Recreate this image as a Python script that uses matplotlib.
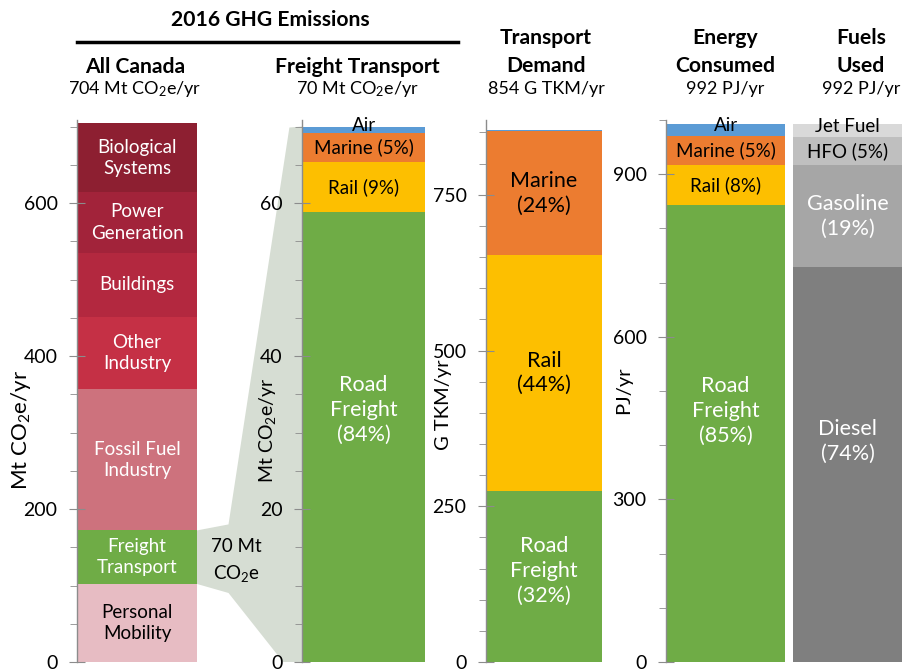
import matplotlib
matplotlib.use("Agg")
import matplotlib.pyplot as plt
import matplotlib.patches as mpatches
from matplotlib.lines import Line2D
from matplotlib.ticker import MultipleLocator, NullFormatter

plt.rcParams["font.family"] = ["Lato", "DejaVu Sans"]
plt.rcParams["mathtext.fontset"] = "custom"
plt.rcParams["mathtext.rm"] = "Lato"
plt.rcParams["mathtext.it"] = "Lato:italic"
plt.rcParams["mathtext.bf"] = "Lato:bold"

# ── Data (bottom → top) ───────────────────────────────────────────────────────
canada_labels = ["Personal\nMobility", "Freight\nTransport", "Fossil Fuel\nIndustry",
                 "Other\nIndustry", "Buildings", "Power\nGeneration", "Biological\nSystems"]
canada_values = [102, 70, 185, 94, 84, 79, 90]            # Mt CO2e/yr

freight_labels = ["Road\nFreight\n(84%)", "Rail (9%)", "Marine (5%)", "Air"]
freight_values = [58.8, 6.6, 3.8, 0.8]                    # Mt CO2e/yr

demand_labels = ["Road\nFreight\n(32%)", "Rail\n(44%)", "Marine\n(24%)", ""]
demand_values = [275, 378, 199, 2]                        # G TKM/yr

energy_labels = ["Road\nFreight\n(85%)", "Rail (8%)", "Marine (5%)", "Air"]
energy_values = [843, 74, 54, 21]                         # PJ/yr

fuel_labels = ["Diesel\n(74%)", "Gasoline\n(19%)", "HFO (5%)", "Jet Fuel"]
fuel_values = [728, 189, 52, 23]                          # PJ/yr

# ── Styles ────────────────────────────────────────────────────────────────────
canada_colors = ["#e7bcc3", "#6fac46", "#cd727d", "#c53045", "#b3283f", "#a2233a", "#8d1f31"]
canada_text = ["black", "white", "white", "white", "white", "white", "white"]
mode_colors = ["#6fac46", "#fdbf00", "#ec7c30", "#5b9bd5"]
mode_text = ["white", "black", "black", "black"]
fuel_colors = ["#7f7f7f", "#a6a6a6", "#bfbfbf", "#d9d9d9"]
fuel_text = ["white", "white", "black", "black"]
AXIS_GREY = "#8c8c8c"

W, H = 902, 671
fig = plt.figure(figsize=(W / 100, H / 100), dpi=100)


def px_axes(x0, x1, top=120, bottom=662):
    return fig.add_axes([x0 / W, 1 - bottom / H, (x1 - x0) / W, (bottom - top) / H])


def ftext(x, y, s, **kw):
    kw.setdefault("ha", "center")
    kw.setdefault("va", "center")
    return fig.text(x / W, 1 - y / H, s, **kw)


def stack(ax, values, labels, colors, text_colors, ymax,
          big=15.5, small=13.5, first_frac=0.5):
    ax.set_xlim(-0.5, 0.5)
    ax.set_ylim(0, ymax)
    total = sum(values)
    bottom = 0
    for i, (v, lab, c, tc) in enumerate(zip(values, labels, colors, text_colors)):
        ax.bar(0, v, width=1.0, bottom=bottom, color=c, linewidth=0, zorder=1)
        share = v / total
        frac = first_frac if i == 0 else 0.5
        size = big if share > 0.15 else small
        dy = 3 if share < 0.03 else 0
        if lab:
            ax.annotate(lab, xy=(0, bottom + v * frac), xytext=(0, dy),
                        textcoords="offset points", ha="center", va="center",
                        color=tc, fontsize=size, linespacing=1.3, zorder=5)
        bottom += v


def style_axis(ax, major, minor, show=True):
    for s in ["top", "right", "bottom"]:
        ax.spines[s].set_visible(False)
    ax.set_xticks([])
    if not show:
        ax.spines["left"].set_visible(False)
        ax.set_yticks([])
        return
    ax.spines["left"].set_color(AXIS_GREY)
    ax.spines["left"].set_linewidth(1.0)
    ax.yaxis.set_major_locator(MultipleLocator(major))
    ax.yaxis.set_minor_locator(MultipleLocator(minor))
    ax.yaxis.set_minor_formatter(NullFormatter())
    ax.tick_params(axis="y", which="major", direction="inout", length=12,
                   color=AXIS_GREY, labelsize=14, pad=8)
    ax.tick_params(axis="y", which="minor", direction="out", length=5,
                   color=AXIS_GREY)


# ── Panels ────────────────────────────────────────────────────────────────────
ax1 = px_axes(77, 197)
stack(ax1, canada_values, canada_labels, canada_colors, canada_text, 708.5, big=13.5, small=13.5)
style_axis(ax1, 200, 50)

ax2 = px_axes(302, 425)
stack(ax2, freight_values, freight_labels, mode_colors, mode_text, 70.85, first_frac=0.56)
style_axis(ax2, 20, 5)

ax3 = px_axes(486, 602)
stack(ax3, demand_values, demand_labels, mode_colors, mode_text, 870, first_frac=0.53)
style_axis(ax3, 250, 50)

ax4 = px_axes(666, 785)
stack(ax4, energy_values, energy_labels, mode_colors, mode_text, 1000, first_frac=0.55)
style_axis(ax4, 300, 100)

ax5 = px_axes(793, 902)
stack(ax5, fuel_values, fuel_labels, fuel_colors, fuel_text, 1000, first_frac=0.56)
style_axis(ax5, 300, 100, show=False)

# ── Connector from the freight slice to the freight panel ─────────────────────
to_fig = fig.transFigure.inverted()
fr_lo = canada_values[0]
fr_hi = fr_lo + canada_values[1]
(lx, ly_top) = ax1.transData.transform((0.5, fr_hi))
(_, ly_bot) = ax1.transData.transform((0.5, fr_lo))
(rx, ry_top) = ax2.transData.transform((-0.5, sum(freight_values)))
(_, ry_bot) = ax2.transData.transform((-0.5, 0))
gap = rx - lx
pts_disp = [
    (lx, ly_top),
    (lx + 0.30 * gap, ly_top + 6),
    (lx + 0.88 * gap, ry_top - 1),
    (rx, ry_top),
    (rx, ry_bot),
    (lx + 0.82 * gap, ry_bot),
    (lx + 0.30 * gap, ly_bot - 9),
    (lx, ly_bot),
]
pts = [to_fig.transform(p) for p in pts_disp]
fig.add_artist(mpatches.Polygon(pts, closed=True, transform=fig.transFigure,
                                facecolor="#d6ddd3", edgecolor="none", zorder=-1))
ftext(236, 547, "70 Mt", fontsize=13.5)
ftext(236, 573, "CO$_2$e", fontsize=13.5)

# ── Axis titles ───────────────────────────────────────────────────────────────
ftext(21, 430, "Mt CO$_2$e/yr", fontsize=16, rotation=90)
ftext(268, 430, "Mt CO$_2$e/yr", fontsize=14, rotation=90)
ftext(444, 405, "G TKM/yr", fontsize=14.5, rotation=90)
ftext(624, 390, "PJ/yr", fontsize=14.5, rotation=90)

# ── Headers ───────────────────────────────────────────────────────────────────
HEAD = 15.2
SUB = 13
ftext(270, 20, "2016 GHG Emissions", fontsize=HEAD, fontweight="bold")
fig.add_artist(Line2D([77 / W, 458 / W], [1 - 42 / H, 1 - 42 / H],
                      transform=fig.transFigure, color="black", lw=2.5))

ftext(135, 67, "All Canada", fontsize=HEAD, fontweight="bold")
ftext(135, 89, "704 Mt CO$_2$e/yr", fontsize=SUB)
ftext(357, 67, "Freight Transport", fontsize=HEAD, fontweight="bold")
ftext(357, 89, "70 Mt CO$_2$e/yr", fontsize=SUB)
ftext(546, 38, "Transport", fontsize=HEAD, fontweight="bold")
ftext(546, 66, "Demand", fontsize=HEAD, fontweight="bold")
ftext(546, 89, "854 G TKM/yr", fontsize=SUB)
ftext(725, 38, "Energy", fontsize=HEAD, fontweight="bold")
ftext(725, 66, "Consumed", fontsize=HEAD, fontweight="bold")
ftext(725, 89, "992 PJ/yr", fontsize=SUB)
ftext(861, 38, "Fuels", fontsize=HEAD, fontweight="bold")
ftext(861, 66, "Used", fontsize=HEAD, fontweight="bold")
ftext(861, 89, "992 PJ/yr", fontsize=SUB)

fig.savefig("out.png", dpi=100)
